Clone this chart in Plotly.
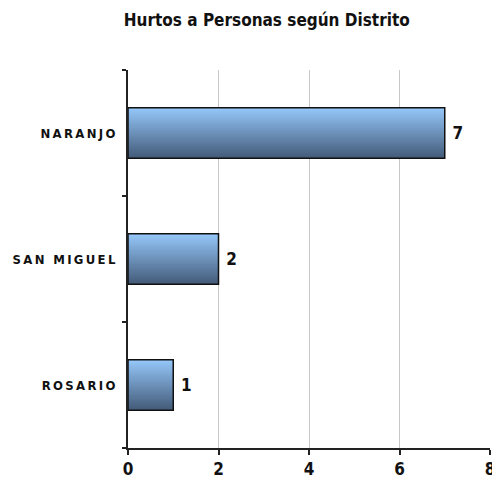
import plotly.graph_objects as go

# data
districts = ["ROSARIO", "SAN MIGUEL", "NARANJO"]
hurtos = [1, 2, 7]
x_ticks = [0, 2, 4, 6, 8]

FONT = "Liberation Sans Narrow, DejaVu Sans Condensed, Arial Narrow, sans-serif"
TOP = (148, 198, 248)
BOTTOM = (68, 92, 122)
N_STRIPS = 30
BAR_W = 0.4
STEP = BAR_W / N_STRIPS

fig = go.Figure()

# gradient: each strip runs from its start up to the top edge, lighter ones drawn last
for i in range(N_STRIPS):
    t = i / (N_STRIPS - 1)
    c = tuple(round(BOTTOM[k] + (TOP[k] - BOTTOM[k]) * t) for k in range(3))
    fig.add_trace(go.Bar(
        x=hurtos,
        y=districts,
        orientation="h",
        width=BAR_W - i * STEP,
        offset=-BAR_W / 2 + i * STEP,
        marker=dict(color="rgb(%d,%d,%d)" % c, line=dict(width=0)),
        hoverinfo="skip",
        showlegend=False,
    ))

# outline + value labels
fig.add_trace(go.Bar(
    x=hurtos,
    y=districts,
    orientation="h",
    width=BAR_W,
    marker=dict(color="rgba(0,0,0,0)", line=dict(color="#111111", width=1.5)),
    text=hurtos,
    texttemplate="\u00a0<b>%{text}</b>",
    textposition="outside",
    textfont=dict(family=FONT, size=17, color="#111111"),
    cliponaxis=False,
    showlegend=False,
))

THIN = "\u2009"

# page body has an 8px margin, so the figure is 8px smaller than the window
fig.update_layout(
    title=dict(
        text="<b>Hurtos a Personas según Distrito</b>",
        x=0.526, xanchor="center", y=0.975, yanchor="middle",
        font=dict(family=FONT, size=17, color="#111111"),
    ),
    width=492,
    height=483,
    margin=dict(l=120, r=10, t=62, b=43),
    barmode="overlay",
    plot_bgcolor="white",
    paper_bgcolor="white",
    font=dict(family=FONT, color="#111111"),
    xaxis=dict(
        range=[0, 8],
        tickvals=x_ticks,
        ticktext=["<b>%d</b>" % v for v in x_ticks],
        tickfont=dict(size=17),
        showgrid=True,
        gridcolor="#c8c8c8",
        gridwidth=1,
        zeroline=False,
        showline=True,
        linecolor="#222222",
        linewidth=2,
        ticks="outside",
        ticklen=5,
        tickwidth=2,
        tickcolor="#222222",
        automargin=False,
    ),
    yaxis=dict(
        categoryorder="array",
        categoryarray=districts,
        ticktext=["<b>" + THIN.join(d) + "</b>" for d in districts],
        tickvals=districts,
        tickfont=dict(size=13),
        tickson="boundaries",
        ticks="outside",
        ticklen=4,
        tickwidth=2,
        tickcolor="#222222",
        showline=True,
        linecolor="#222222",
        linewidth=2,
        showgrid=False,
        zeroline=False,
        ticklabelstandoff=8,
        automargin=False,
    ),
)

fig.write_html("out.html")
